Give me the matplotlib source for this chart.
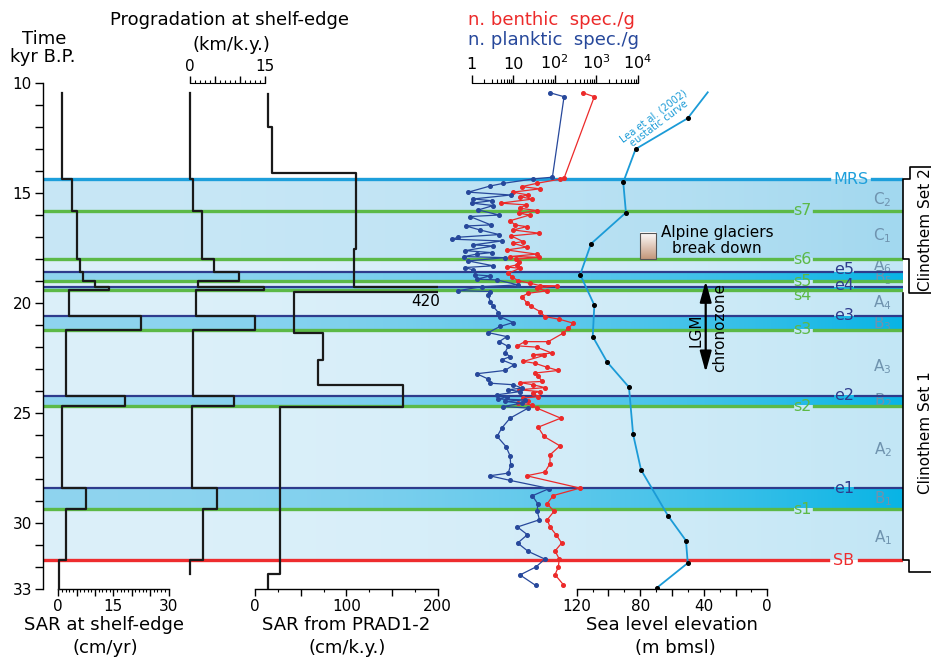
import numpy as np
import matplotlib
matplotlib.use("Agg")
import matplotlib.pyplot as plt
from matplotlib.colors import to_rgb
from matplotlib.ticker import FixedLocator, FixedFormatter, MultipleLocator

# ---------------- data ----------------
# stratigraphic surfaces (kyr B.P.)
surf_names = ["MRS", "s7", "s6", "e5", "s5", "e4", "s4", "e3", "s3", "e2", "s2", "e1", "s1", "SB"]
surf_kinds = ["mrs", "s", "s", "e", "s", "e", "s", "e", "s", "e", "s", "e", "s", "sb"]
surf_ages = [14.37, 15.80, 18.00, 18.60, 18.99, 19.27, 19.40, 20.59, 21.20, 24.21, 24.68, 28.41, 29.38, 31.70]

# zone type between consecutive surfaces
zone_types = ["C", "C", "A", "B", "A", "B", "A", "B", "A", "B", "A", "B", "A"]

unit_names = ["C", "C", "A", "B", "A", "B", "A", "B", "A", "B", "A"]
unit_subs = ["2", "1", "6", "5", "4", "3", "3", "2", "2", "1", "1"]
unit_ages = [15.27, 16.94, 18.30, 18.85, 19.99, 20.94, 22.88, 24.44, 26.67, 28.90, 30.65]

# SAR at shelf-edge (cm/yr), step profile
sar_edges = [10.45, 14.37, 15.80, 18.00, 18.60, 18.99, 19.27, 19.40, 20.59, 21.20,
             24.21, 24.68, 28.41, 29.38, 31.70, 33.0]
sar_vals = [1.0, 3.8, 5.2, 5.9, 6.6, 10.0, 13.7, 3.0, 22.5, 2.1, 18.1, 1.0, 7.5, 2.0, 0.3]

# progradation at shelf-edge (km/k.y.)
prog_edges = [10.45, 14.37, 15.80, 18.00, 18.60, 18.99, 19.27, 19.40, 20.59, 21.20,
              24.21, 24.68, 28.41, 29.38, 31.70, 32.34]
prog_vals = [0.0, 0.5, 2.3, 4.8, 9.8, 1.5, 14.7, 1.2, 12.9, 0.6, 8.8, 0.3, 5.4, 2.5, 0.0]

# SAR from PRAD1-2 (cm/k.y.)
prad_edges = [10.47, 11.98, 14.10, 17.53, 19.27, 19.50, 21.35, 22.58, 23.72, 24.72, 32.31, 33.0]
prad_vals = [14.6, 18.3, 110.2, 108.4, 420, 43, 74.4, 69, 162, 27, 14.5]

# planktic foraminifera (spec./g)
plank_t = [10.43, 10.61, 14.27, 14.35, 14.55, 14.67, 14.95, 15.08, 15.26, 15.34,
           15.45, 15.56, 15.76, 15.99, 16.06, 16.44, 16.49, 16.67, 16.88, 17.00,
           17.09, 17.17, 17.35, 17.40, 17.61, 17.70, 17.77, 17.88, 17.93, 18.08,
           18.30, 18.38, 18.49, 18.71, 18.76, 18.91, 18.94, 19.17, 19.25, 19.43,
           19.47, 19.62, 19.93, 20.15, 20.43, 20.61, 20.88, 21.06, 21.34, 21.52,
           21.75, 21.97, 22.25, 22.43, 22.58, 22.80, 23.06, 23.21, 23.45, 23.64,
           23.71, 23.86, 23.94, 24.02, 24.17, 24.25, 24.36, 24.40, 24.47, 24.55,
           24.70, 24.77, 25.23, 25.68, 26.06, 26.52, 26.94, 27.35, 27.73, 27.85,
           28.06, 28.43, 28.76, 29.12, 29.47, 29.85, 30.18, 30.53, 30.91, 31.29,
           31.64, 32.00, 32.36, 32.84]
plank_v = [77, 168, 88, 30, 5.8, 2.8, 0.83, 8.7, 1.1, 3.0,
           1.03, 3.3, 1.44, 4.6, 0.91, 2.9, 0.73, 1.58, 4.6, 0.48,
           0.33, 5.3, 1.1, 3.3, 0.69, 3.0, 1.32, 0.65, 6.3, 0.83,
           3.3, 0.69, 1.1, 1.2, 2.8, 1.32, 4.0, 13.3, 1.74, 0.48,
           2.8, 2.5, 2.8, 3.3, 4.4, 4.8, 10, 4.8, 2.5, 7.0,
           4.6, 7.6, 6.3, 8.4, 5.3, 10.5, 6.3, 1.32, 2.5, 2.8,
           10, 16, 7.6, 14.6, 4.0, 7.0, 4.4, 19, 6.3, 16,
           5.8, 23, 8.4, 5.3, 4.1, 6.7, 8.4, 8.7, 7.6, 2.7,
           8.4, 74, 29, 39, 38, 43, 12.6, 22, 12.8, 23,
           58, 35, 14.6, 35]

# benthic foraminifera (spec./g)
benth_t = [10.43, 10.61, 14.29, 14.36, 14.55, 14.70, 14.80, 14.95, 15.08, 15.15,
           15.27, 15.45, 15.53, 15.68, 15.79, 15.91, 15.99, 16.25, 16.44, 16.52,
           16.67, 16.82, 16.94, 17.20, 17.27, 17.45, 17.58, 17.77, 17.88, 17.91,
           18.00, 18.11, 18.26, 18.36, 18.41, 18.64, 18.79, 18.97, 19.09, 19.20,
           19.21, 19.32, 19.44, 19.55, 19.70, 19.97, 20.15, 20.38, 20.61, 20.73,
           20.91, 21.14, 21.36, 21.75, 21.75, 21.94, 22.00, 22.27, 22.35, 22.38,
           22.65, 22.73, 22.91, 23.06, 23.18, 23.30, 23.56, 23.61, 23.71, 23.84,
           23.94, 24.02, 24.09, 24.25, 24.32, 24.47, 24.55, 24.62, 24.77, 25.23,
           25.64, 26.06, 26.49, 26.90, 27.30, 27.68, 27.85, 28.41, 28.75, 29.12,
           29.47, 29.85, 30.18, 30.55, 30.91, 31.27, 31.64, 32.00, 32.35, 32.80]
benth_v = [473, 900, 170, 134, 37, 16, 44, 9.7, 23, 14.6,
           28, 5.0, 20, 14.6, 37, 14, 25, 8.4, 11, 21,
           10, 43, 8.9, 17.5, 9.7, 21, 7.0, 37, 8.4, 43,
           11.7, 13.8, 12.1, 7.0, 14.6, 7.6, 9.2, 12.8, 25, 44,
           112, 37, 64, 23, 16, 21, 27, 44, 58, 129,
           281, 213, 161, 70, 19, 12.6, 37, 85, 30, 55,
           17.5, 33, 64, 122, 33, 40, 49, 14.6, 30, 58,
           14, 44, 30, 40, 17.5, 23, 13.3, 28, 37, 140,
           40, 55, 134, 77, 77, 58, 21, 407, 92, 66,
           96, 66, 77, 110, 147, 102, 129, 122, 102, 161]

# Lea et al. (2002) eustatic curve (m bmsl)
sea_t = [10.41, 11.59, 12.99, 14.50, 15.88, 17.30, 18.70, 20.09, 21.52, 22.68,
         23.82, 25.96, 27.58, 29.67, 30.80, 31.82, 32.95]
sea_m = [37.5, 50.1, 82.9, 90.7, 89.0, 111.0, 117.8, 108.9, 109.9, 100.8,
         87.1, 84.5, 79.5, 62.5, 51.2, 50.1, 69.6]

# ---------------- layout helpers ----------------
W, H = 931, 661
Y_TOP, Y_BOT = 83.3, 589.0
BG_X0, BG_X1 = 43.0, 903.0

fig = plt.figure(figsize=(W / 100, H / 100), dpi=100)


def px2frac(px):
    return (px - BG_X0) / (BG_X1 - BG_X0)


def py2age(py):
    return 10 + (py - Y_TOP) * 23 / (Y_BOT - Y_TOP)


def add_ax(x0, x1, z=1):
    ax = fig.add_axes([x0 / W, 1 - Y_BOT / H, (x1 - x0) / W, (Y_BOT - Y_TOP) / H])
    ax.set_ylim(33, 10)
    ax.patch.set_visible(False)
    for s in ax.spines.values():
        s.set_visible(False)
    ax.set_zorder(z)
    ax.set_yticks([])
    ax.tick_params(left=False, labelleft=False)
    return ax


def ftext(px, py, s, **kw):
    kw.setdefault("ha", "center")
    kw.setdefault("va", "center")
    kw.setdefault("fontsize", 13)
    fig.text(px / W, 1 - py / H, s, **kw)


def step_xy(edges, vals):
    y = np.repeat(edges, 2)[1:-1]
    x = np.repeat(vals, 2)
    return x, y


# ---------------- background: bands, surfaces, time axis ----------------
bg = add_ax(BG_X0, BG_X1, 0)
bg.set_xlim(0, 1)

zone_cols = {"C": ("#c8e7f6", "#a2d8ef"),
             "A": ("#dcf0fa", "#c2e6f5"),
             "B": ("#8fd4ef", "#08b4e5")}
ramp = np.linspace(0, 1, 256) ** 2
for i, zt in enumerate(zone_types):
    c0 = np.array(to_rgb(zone_cols[zt][0]))
    c1 = np.array(to_rgb(zone_cols[zt][1]))
    img = (c0[None, :] + (c1 - c0)[None, :] * ramp[:, None])[None, :, :]
    bg.imshow(img, extent=(0, 1, surf_ages[i + 1], surf_ages[i]), aspect="auto",
              interpolation="bilinear", zorder=0)
bg.set_xlim(0, 1)
bg.set_ylim(33, 10)

line_style = {"mrs": ("#1d9fdb", 2.4), "s": ("#5cb947", 2.4),
              "e": ("#2e3b8c", 1.6), "sb": ("#ee2c2e", 2.4)}
label_px = {"mrs": 851, "s": 802, "e": 844, "sb": 844}
gap_px = {"mrs": (829, 872), "s": (792, 814), "e": (833, 855), "sb": (828, 859)}
label_dy = {"e5": -3, "s5": 1, "e4": -2, "s4": 6, "e3": -1}

for name, kind, age in zip(surf_names, surf_kinds, surf_ages):
    col, lw = line_style[kind]
    if name == "s4":
        bg.axhline(age, 0, 1, color=col, lw=lw, zorder=2)
    else:
        g0, g1 = gap_px[kind]
        bg.axhline(age, 0, px2frac(g0), color=col, lw=lw, zorder=2)
        bg.axhline(age, px2frac(g1), 1, color=col, lw=lw, zorder=2)
    dy = label_dy.get(name, 0) * 23 / (Y_BOT - Y_TOP)
    bg.text(px2frac(label_px[kind]), age + dy, name, color=col, fontsize=11.5,
            ha="center", va="center", zorder=3)

for nm, sb, age in zip(unit_names, unit_subs, unit_ages):
    bg.text(px2frac(882.7), age, nm + r"$_\mathregular{" + sb + "}$", color="#6f93ae",
            fontsize=11, ha="center", va="center", zorder=1)

# time axis
bg.spines["left"].set_visible(True)
bg.spines["left"].set_linewidth(1.0)
bg.tick_params(left=True, labelleft=True)
bg.yaxis.set_major_locator(FixedLocator([10, 15, 20, 25, 30, 33]))
bg.yaxis.set_minor_locator(MultipleLocator(1))
bg.tick_params(axis="y", which="both", direction="out", length=6, width=1,
               labelsize=11, pad=2)
bg.set_xticks([])
ftext(44, 39, "Time")
ftext(43, 57, "kyr B.P.")

# clinothem brackets
yt2, yb2, yb1 = py2age(167), py2age(292.7), py2age(572)
bg.plot([px2frac(940), px2frac(910), px2frac(910), 1, 1, px2frac(909), px2frac(909), px2frac(940)],
        [yt2, yt2, surf_ages[0], surf_ages[0], surf_ages[2], surf_ages[2], yb2, yb2],
        color="black", lw=1.2, clip_on=False)
bg.plot([1, 1, px2frac(909), px2frac(909), px2frac(940)],
        [yb2, surf_ages[-1], surf_ages[-1], yb1, yb1],
        color="black", lw=1.2, clip_on=False)
bg.text(px2frac(925), (yt2 + yb2) / 2, "Clinothem Set 2", rotation=90, fontsize=11,
        ha="center", va="center")
bg.text(px2frac(925), (yb2 + yb1) / 2, "Clinothem Set 1", rotation=90, fontsize=11,
        ha="center", va="center")

# Alpine glaciers box + LGM arrow
bx = np.linspace(1, 0, 128)
box_img = np.array(to_rgb("#c4967a"))[None, :] * (1 - bx[:, None]) + bx[:, None]
bg.imshow(box_img[:, None, :], extent=(px2frac(640), px2frac(656), surf_ages[2], py2age(232.7)),
          aspect="auto", interpolation="bilinear", zorder=3)
bg.add_patch(plt.Rectangle((px2frac(640), py2age(232.7)), px2frac(656) - px2frac(640),
                           surf_ages[2] - py2age(232.7), fill=False, ec="#555555", lw=0.8, zorder=4))
bg.text(px2frac(717), py2age(240.5), "Alpine glaciers\nbreak down", fontsize=11,
        ha="center", va="center", linespacing=1.15, zorder=4)
bg.annotate("", xy=(px2frac(705.7), py2age(375)), xytext=(px2frac(705.7), py2age(278.3)),
            arrowprops=dict(arrowstyle="<|-|>,head_length=0.9,head_width=0.25",
                            color="black", lw=1.6, mutation_scale=14), zorder=4)
bg.text(px2frac(696), py2age(330), "LGM", rotation=90, fontsize=11, ha="center", va="center")
bg.text(px2frac(720), py2age(328), "chronozone", rotation=90, fontsize=11, ha="center", va="center")
bg.set_xlim(0, 1)
bg.set_ylim(33, 10)


def bottom_axis(ax, majors, labels, minor_step):
    ax.spines["bottom"].set_visible(True)
    ax.spines["bottom"].set_linewidth(1.0)
    ax.xaxis.set_ticks_position("bottom")
    ax.xaxis.set_major_locator(FixedLocator(majors))
    ax.xaxis.set_major_formatter(FixedFormatter(labels))
    ax.xaxis.set_minor_locator(MultipleLocator(minor_step))
    ax.tick_params(axis="x", which="major", direction="out", length=5, width=1,
                   labelsize=11, pad=2)
    ax.tick_params(axis="x", which="minor", direction="out", length=2.5, width=0.8)


# ---------------- SAR at shelf-edge ----------------
sar = add_ax(58.3, 168.5)
sar.set_xlim(0, 30)
bottom_axis(sar, [0, 5, 10, 15, 20, 25, 30], ["0", "", "", "15", "", "", "30"], 1)
x, y = step_xy(sar_edges, sar_vals)
sar.plot(x, y, color="#1a1a1a", lw=1.6, zorder=5, clip_on=False)
ftext(104, 625, "SAR at shelf-edge")
ftext(105, 648, "(cm/yr)")

# ---------------- progradation ----------------
prog = add_ax(190, 265)
prog.set_xlim(0, 15)
prog.spines["top"].set_visible(True)
prog.xaxis.set_ticks_position("top")
prog.xaxis.set_major_locator(FixedLocator([0, 5, 10, 15]))
prog.xaxis.set_major_formatter(FixedFormatter(["0", "", "", "15"]))
prog.xaxis.set_minor_locator(MultipleLocator(1))
prog.tick_params(axis="x", which="major", direction="out", length=5, width=1,
                 labelsize=11, pad=2, top=True, labeltop=True, bottom=False, labelbottom=False)
prog.tick_params(axis="x", which="minor", direction="out", length=2.5, width=0.8,
                 top=True, bottom=False)
x, y = step_xy(prog_edges, prog_vals)
prog.plot(x, y, color="#1a1a1a", lw=1.6, zorder=5, clip_on=False)
ftext(230, 20, "Progradation at shelf-edge")
ftext(231, 44.5, "(km/k.y.)")

# ---------------- SAR from PRAD1-2 ----------------
prad = add_ax(255, 437.7)
prad.set_xlim(0, 200)
bottom_axis(prad, [0, 50, 100, 150, 200], ["0", "", "100", "", "200"], 25)
x, y = step_xy(prad_edges, prad_vals)
prad.plot(x, y, color="#1a1a1a", lw=1.6, zorder=5)
prad.text(187, py2age(302), "420", fontsize=11, ha="center", va="center")
ftext(346, 625, "SAR from PRAD1-2")
ftext(347, 648, "(cm/k.y.)")

# ---------------- foraminifera ----------------
foram = add_ax(430.2, 637.7, 2)
foram.set_xscale("log")
foram.set_xlim(0.1, 1e4)
foram.spines["top"].set_visible(True)
foram.spines["top"].set_bounds(1, 1e4)
foram.xaxis.set_ticks_position("top")
foram.xaxis.set_major_locator(FixedLocator([1, 10, 100, 1000, 10000]))
foram.xaxis.set_major_formatter(FixedFormatter(["1", "10", r"$10^{2}$", r"$10^{3}$", r"$10^{4}$"]))
foram.xaxis.set_minor_locator(FixedLocator([k * 10.0 ** d for d in range(4) for k in range(2, 10)]))
foram.tick_params(axis="x", which="major", direction="out", length=6, width=1,
                  labelsize=11.5, pad=2, top=True, labeltop=True, bottom=False, labelbottom=False)
foram.tick_params(axis="x", which="minor", direction="out", length=3, width=0.8,
                  top=True, bottom=False, labelbottom=False)
foram.plot(benth_v, benth_t, color="#ec2a2a", lw=0.9, marker="o", ms=2.6, zorder=5)
foram.plot(plank_v, plank_t, color="#27489b", lw=0.9, marker="o", ms=2.6, zorder=5)
ftext(551, 20, "n. benthic  spec./g", color="#ec2a2a")
ftext(553, 40, "n. planktic  spec./g", color="#27489b")

# ---------------- sea level ----------------
sea = add_ax(576.7, 767.3, 3)
sea.set_xlim(120, 0)
bottom_axis(sea, [120, 100, 80, 60, 40, 20, 0], ["120", "", "80", "", "40", "", "0"], 10)
sea.plot(sea_m, sea_t, color="#1b9bd7", lw=1.3, zorder=5)
sea.plot(sea_m[1:], sea_t[1:], "o", color="black", ms=2.6, zorder=6)
sea.text(70, py2age(120), "Lea et al. (2002)\neustatic curve", color="#1b9bd7", fontsize=7,
         rotation=37, ha="center", va="center", linespacing=1.0)
ftext(672, 625, "Sea level elevation")
ftext(675, 648, "(m bmsl)")

fig.savefig("out.png", dpi=100)
